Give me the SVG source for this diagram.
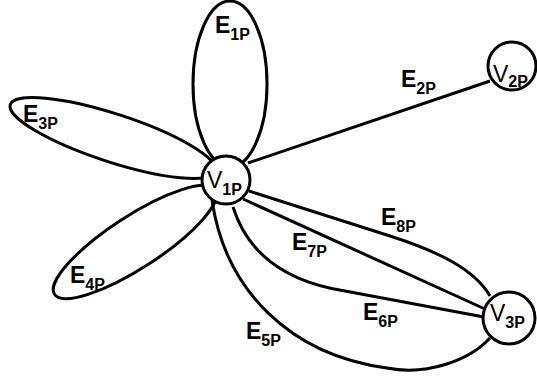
<svg xmlns="http://www.w3.org/2000/svg" width="537" height="377" viewBox="0 0 537 377">
<style>
.e{fill:none;stroke:#000;stroke-width:3}
.n{fill:#fff;stroke:#000;stroke-width:3}
.t{font-family:"Liberation Sans",Arial,sans-serif;font-size:23px;fill:#000}
.b{font-weight:bold}
.s{font-size:16px;font-weight:bold}
</style>
<rect width="537" height="377" fill="#fff"/>
<g id="connectors">
<ellipse class="e" cx="230" cy="84" rx="37" ry="83"/>
<ellipse class="e" cx="113" cy="138" rx="108" ry="24" transform="rotate(18 113 138)"/>
<ellipse class="e" cx="135" cy="242" rx="96" ry="26" transform="rotate(-33 135 242)"/>
<path class="e" d="M248,163 L490,81"/>
<path class="e" d="M212,200 C225,290 290,355 387,368 C427,376 470,360 490,338"/>
<path class="e" d="M233,207 C245,245 275,280 345,291 L484,317"/>
<path class="e" d="M243,199 L485,309"/>
<path class="e" d="M249,191 L390,236 C440,252 475,270 490,296"/>
</g>
<g id="V1P"><circle class="n" cx="226" cy="180" r="24"/><text class="t" x="207" y="188">V<tspan class="s" dy="7">1P</tspan></text></g>
<g id="V2P"><circle class="n" cx="512" cy="66" r="24"/><text class="t" x="493" y="82">V<tspan class="s" dy="5">2P</tspan></text></g>
<g id="V3P"><circle class="n" cx="509" cy="318" r="26"/><text class="t" x="490" y="321">V<tspan class="s" dy="7">3P</tspan></text></g>
<g id="labels">
<text class="t b" x="215" y="33">E<tspan class="s" dy="7">1P</tspan></text>
<text class="t b" x="401" y="87">E<tspan class="s" dy="7">2P</tspan></text>
<text class="t b" x="23" y="122">E<tspan class="s" dy="7">3P</tspan></text>
<text class="t b" x="70" y="283">E<tspan class="s" dy="7">4P</tspan></text>
<text class="t b" x="246" y="339">E<tspan class="s" dy="7">5P</tspan></text>
<text class="t b" x="363" y="320">E<tspan class="s" dy="7">6P</tspan></text>
<text class="t b" x="292" y="250">E<tspan class="s" dy="7">7P</tspan></text>
<text class="t b" x="381" y="225">E<tspan class="s" dy="7">8P</tspan></text>
</g>
</svg>
